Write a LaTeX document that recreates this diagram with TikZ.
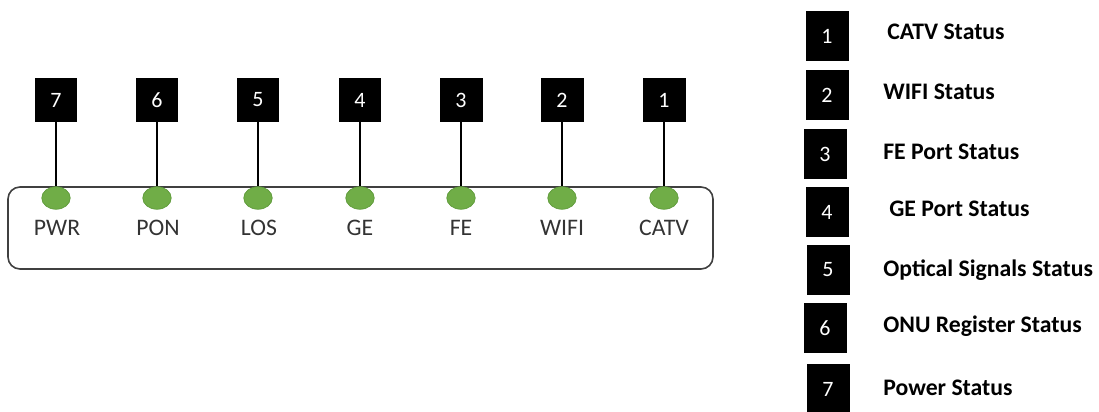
\documentclass[tikz,border=0pt]{standalone}
\usepackage{fontspec}
\setmainfont{Carlito}
\usetikzlibrary{shapes.geometric}
\definecolor{ledgreen}{HTML}{70AD47}
\definecolor{ledrim}{HTML}{5E9A3A}
\tikzset{
  numbox/.style={fill=black, text=white, minimum width=0.86cm, minimum height=0.88cm, inner sep=0pt, font=\fontsize{12.5}{14}\selectfont},
  keybox/.style={numbox, minimum height=1.0cm},
  led/.style={ellipse, fill=ledgreen, draw=ledrim, line width=0.4pt, minimum width=0.57cm, minimum height=0.45cm, inner sep=0pt},
  ledname/.style={text=black!80, inner sep=0pt, font=\fontsize{13.5}{15}\selectfont},
  keytext/.style={anchor=west, inner sep=0pt, font=\bfseries\fontsize{13.5}{15}\selectfont},
  lead/.style={line width=1.1pt}
}
\begin{document}
\begin{tikzpicture}[x=0.02cm,y=-0.02cm]
	\useasboundingbox (0,0) rectangle (1099,412);
	% panel
	\draw [black!75, line width=0.9pt, rounded corners=0.24cm] (8,187) rectangle (713,269);
	% leds
	\node [led] (led7) at (56,198) {};
	\node [led] (led6) at (157,198) {};
	\node [led] (led5) at (258,198) {};
	\node [led] (led4) at (360,198) {};
	\node [led] (led3) at (461,198) {};
	\node [led] (led2) at (562,198) {};
	\node [led] (led1) at (664,198) {};
	\node [ledname] (pwr) at (57,228) {PWR};
	\node [ledname] (pon) at (158,228) {PON};
	\node [ledname] (los) at (259,228) {LOS};
	\node [ledname] (ge) at (360,228) {GE};
	\node [ledname] (fe) at (461,228) {FE};
	\node [ledname] (wifi) at (562,228) {WIFI};
	\node [ledname] (catv) at (664,228) {CATV};
	% number boxes
	\node [numbox] (n7) at (56,100) {7};
	\node [numbox] (n6) at (157,100) {6};
	\node [numbox] (n5) at (258,100) {5};
	\node [numbox] (n4) at (360,100) {4};
	\node [numbox] (n3) at (461,100) {3};
	\node [numbox] (n2) at (562,100) {2};
	\node [numbox] (n1) at (664,100) {1};
	\draw [lead] (n7) -- (led7.north);
	\draw [lead] (n6) -- (led6.north);
	\draw [lead] (n5) -- (led5.north);
	\draw [lead] (n4) -- (led4.north);
	\draw [lead] (n3) -- (led3.north);
	\draw [lead] (n2) -- (led2.north);
	\draw [lead] (n1) -- (led1.north);
	% legend
	\node [keybox] (k1) at (827,36) {1};
	\node [keybox] (k2) at (827,95) {2};
	\node [keybox] (k3) at (825,154) {3};
	\node [keybox] (k4) at (827,212) {4};
	\node [keybox] (k5) at (828,270) {5};
	\node [keybox] (k6) at (825,328) {6};
	\node [keybox] (k7) at (828,389) {7};
	\node [keytext] (t1) at (887,32) {CATV Status};
	\node [keytext] (t2) at (883,92) {WIFI Status};
	\node [keytext] (t3) at (883,152) {FE Port Status};
	\node [keytext] (t4) at (889,209) {GE Port Status};
	\node [keytext] (t5) at (883,270) {Optical Signals Status};
	\node [keytext] (t6) at (883,326) {ONU Register Status};
	\node [keytext] (t7) at (883,388) {Power Status};
\end{tikzpicture}
\end{document}
